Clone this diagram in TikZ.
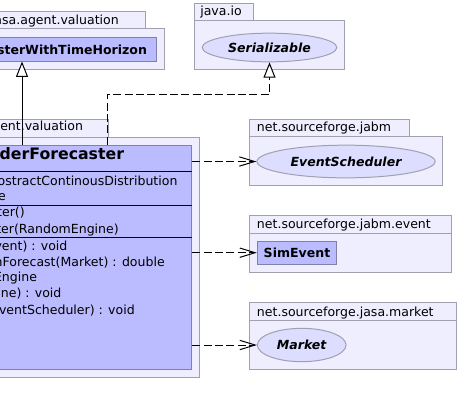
\documentclass[tikz,border=0pt]{standalone}
\usepackage{fontspec}
\setmainfont{DejaVu Sans}
\usetikzlibrary{arrows.meta,shapes.geometric,fit}
\definecolor{pkgfill}{RGB}{238,238,255}
\definecolor{pkgline}{RGB}{160,160,176}
\definecolor{clsfill}{RGB}{187,187,255}
\definecolor{clsline}{RGB}{128,128,168}
\definecolor{ifcfill}{RGB}{221,221,255}
\tikzset{
  pkg/.style={draw=pkgline,fill=pkgfill,line width=0.75pt,inner sep=0pt},
  cls/.style={draw=clsline,fill=clsfill,line width=0.75pt,inner sep=0pt},
  ifc/.style={ellipse,draw=pkgline,fill=ifcfill,line width=0.75pt,inner sep=0pt,
    font=\fontsize{9.4}{11}\selectfont\bfseries\itshape},
  txt/.style={inner sep=0pt,font=\fontsize{9.4}{11}\selectfont},
  btxt/.style={inner sep=0pt,font=\fontsize{9.4}{11}\selectfont\bfseries},
  dep/.style={line width=0.75pt,dash pattern=on 6pt off 2.5pt,
    -{Straight Barb[length=11.5pt,width=7pt]}},
  realize/.style={line width=0.75pt,dash pattern=on 6pt off 2.5pt,
    -{Triangle[fill=white,length=11.5pt,width=9pt]}},
  inherit/.style={line width=0.75pt,-{Triangle[fill=white,length=11.5pt,width=9pt]}}
}
\begin{document}
\begin{tikzpicture}[x=0.75pt,y=-0.75pt]
\useasboundingbox (0,0) rectangle (459,415);
\fill[white] (0,0) rectangle (459,415);
\clip (0,0) rectangle (459,415);
% packages on the left
\node[pkg, fit={(-60,11) (145,28.3)}] (avtab) {};
\node[pkg, fit={(-60,28.3) (164.3,69.3)}] (avbody) {};
\node[txt, anchor=base east] (avname) at (119,24) {asa.agent.valuation};
\node[cls, fit={(-60,37.3) (156,61)}] (twh) {};
\node[btxt, anchor=base east] (twhname) at (147.3,54) {sterWithTimeHorizon};
\node[pkg, fit={(-60,119) (108.3,137)}] (valtab) {};
\node[pkg, fit={(-60,137) (199.3,377)}] (valbody) {};
\node[txt, anchor=base east] (valname) at (83.3,130.7) {gent.valuation};
\node[cls, fit={(-60,145) (191.7,369)}] (fc) {};
\foreach \y in {171.7,205,237.5}
  \draw[line width=0.75pt] (-60,\y) -- (191.7,\y);
\node[btxt, font=\fontsize{11.8}{14}\selectfont\bfseries, anchor=base east] (fcname) at (124.3,159) {derForecaster};
\node[txt, anchor=base east] (fca1) at (177.7,185) {ostractContinousDistribution};
\node[txt, anchor=base east] (fca2) at (6,200.7) {e};
\node[txt, anchor=base east] (fcc1) at (25,216.7) {ter()};
\node[txt, anchor=base east] (fcc2) at (119,233) {ter(RandomEngine)};
\node[txt, anchor=base east] (fcm1) at (67.7,250) {vent) : void};
\node[txt, anchor=base east] (fcm2) at (165,266.7) {nForecast(Market) : double};
\node[txt, anchor=base east] (fcm3) at (37.3,281.7) {Engine};
\node[txt, anchor=base east] (fcm4) at (61.7,297.7) {ine) : void};
\node[txt, anchor=base east] (fcm5) at (135,314) {EventScheduler) : void};
% java.io
\node[pkg, fit={(194,3) (253,20)}] (iotab) {};
\node[pkg, fit={(194,20) (344.3,69)}] (iobody) {};
\node[txt, anchor=base west] (ioname) at (200,15.7) {java.io};
\node[ifc, minimum width=101pt, minimum height=21.5pt] (ser) at (269.5,47.5) {Serializable};
% net.sourceforge.jabm
\node[pkg, fit={(249.3,119.3) (409.3,136)}] (jabmtab) {};
\node[pkg, fit={(249.3,136) (442.7,185.3)}] (jabmbody) {};
\node[txt, anchor=base west] (jabmname) at (256.7,131.7) {net.sourceforge.jabm};
\node[ifc, minimum width=133.7pt, minimum height=24.5pt] (es) at (346,161.5) {EventScheduler};
% net.sourceforge.jabm.event
\node[pkg, fit={(249.3,215.7) (451.3,233.3)}] (evtab) {};
\node[pkg, fit={(249.3,233.3) (451.3,272.7)}] (evbody) {};
\node[txt, anchor=base west] (evname) at (256.7,228.3) {net.sourceforge.jabm.event};
\node[cls, btxt, minimum width=59.5pt, minimum height=17.5pt] (sim) at (297,252.7) {SimEvent};
% net.sourceforge.jasa.market
\node[pkg, fit={(249.3,302.3) (456,320.7)}] (mktab) {};
\node[pkg, fit={(249.3,320.7) (456,369.3)}] (mkbody) {};
\node[txt, anchor=base west] (mkname) at (256.7,316) {net.sourceforge.jasa.market};
\node[ifc, minimum width=66.5pt, minimum height=25pt] (mk) at (301.7,345) {Market};
% relations
\coordinate (gx) at (22,0);
\draw[inherit] (fc.north -| gx) -- (twh.south -| gx);
\coordinate (bend) at (107,94);
\draw[realize] (fc.north -| bend) -- (bend) -| (ser.south);
\draw[dep] (fc.east |- es.west) -- (es.west);
\draw[dep] (fc.east |- sim.west) -- (sim.west);
\draw[dep] (fc.east |- mk.west) -- (mk.west);
\end{tikzpicture}
\end{document}
